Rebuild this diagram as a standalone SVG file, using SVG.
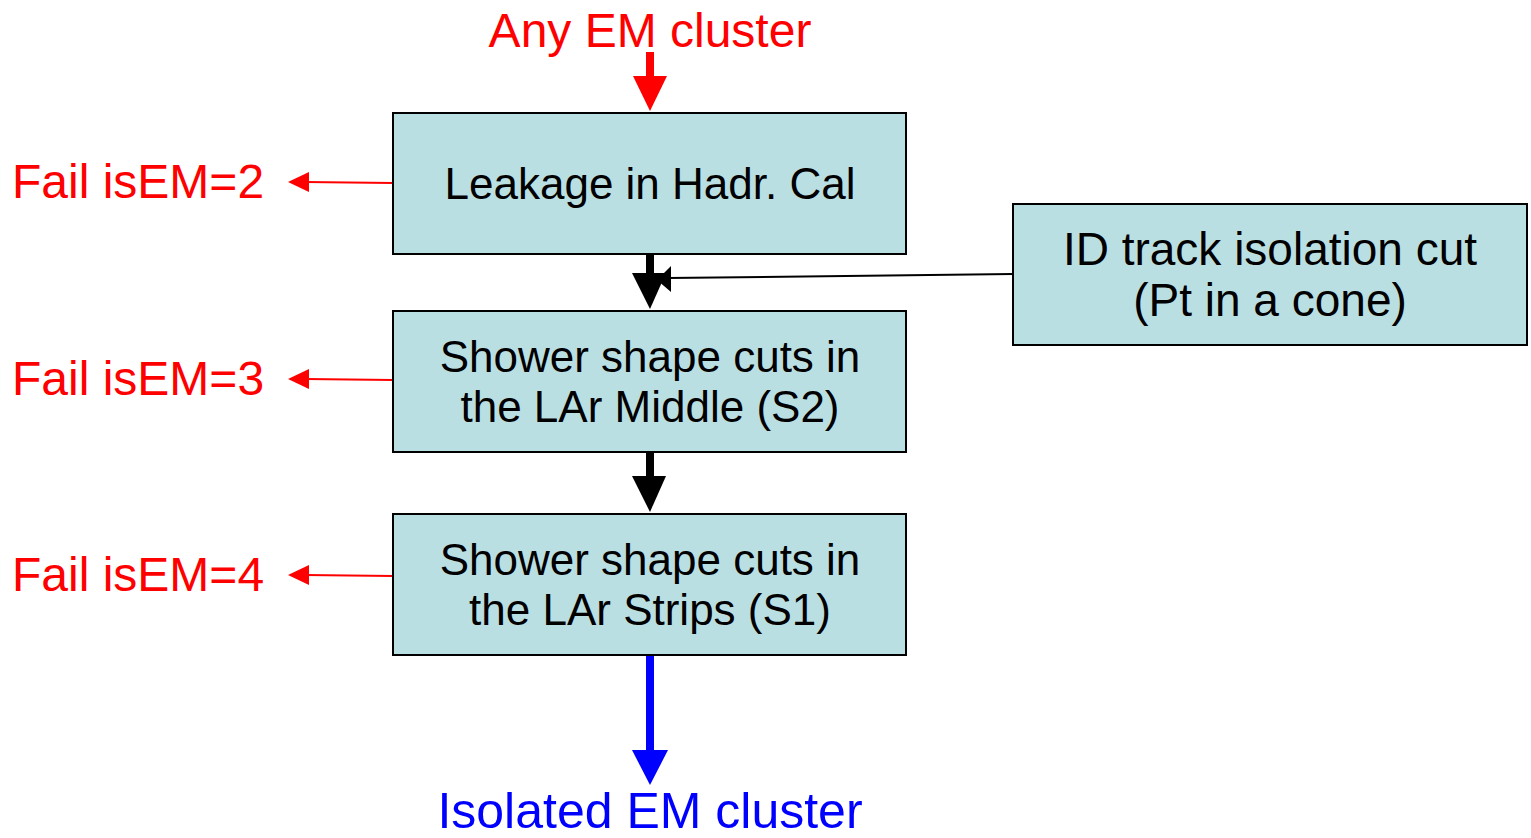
<svg xmlns="http://www.w3.org/2000/svg" width="1531" height="838" viewBox="0 0 1531 838">
<style>
.box{fill:#badfe3;stroke:#000;stroke-width:2}
.t{font-family:"Liberation Sans","Open Sans",sans-serif;font-size:44px;fill:#000;text-anchor:middle}
.t2{font-size:46px}
.red{font-family:"Liberation Sans","Open Sans",sans-serif;font-size:48px;fill:#ff0000}
.blue{font-family:"Liberation Sans","Open Sans",sans-serif;font-size:50px;fill:#0000ff;text-anchor:middle}
</style>
<rect width="1531" height="838" fill="#fff"/>
<g id="connectors">
  <line x1="650" y1="52" x2="650" y2="78" stroke="#ff0000" stroke-width="8"/>
  <polygon points="633,76 667,76 650,111" fill="#ff0000"/>
  <line x1="650" y1="254" x2="650" y2="275" stroke="#000" stroke-width="8"/>
  <polygon points="632,273 666,273 650,309" fill="#000"/>
  <line x1="1013" y1="274" x2="668" y2="278" stroke="#000" stroke-width="2"/>
  <polygon points="657,280 671,266 671,292" fill="#000"/>
  <line x1="650" y1="452" x2="650" y2="478" stroke="#000" stroke-width="8"/>
  <polygon points="632,476 666,476 650,512" fill="#000"/>
  <line x1="650" y1="656" x2="650" y2="752" stroke="#0000ff" stroke-width="8"/>
  <polygon points="632,750 668,750 650,785" fill="#0000ff"/>
  <line x1="393" y1="183" x2="305" y2="182" stroke="#ff0000" stroke-width="2"/>
  <polygon points="288,182 309,172 309,192" fill="#ff0000"/>
  <line x1="393" y1="380" x2="305" y2="379" stroke="#ff0000" stroke-width="2"/>
  <polygon points="288,379 309,369 309,389" fill="#ff0000"/>
  <line x1="393" y1="576" x2="305" y2="575" stroke="#ff0000" stroke-width="2"/>
  <polygon points="288,575 309,565 309,585" fill="#ff0000"/>
</g>
<g id="n1"><rect class="box" x="393" y="113" width="513" height="141"/><text class="t" x="650" y="199">Leakage in Hadr. Cal</text></g>
<g id="n2"><rect class="box" x="393" y="311" width="513" height="141"/><text class="t" x="650" y="372">Shower shape cuts in</text><text class="t" x="650" y="422">the LAr Middle (S2)</text></g>
<g id="n3"><rect class="box" x="393" y="514" width="513" height="141"/><text class="t" x="650" y="575">Shower shape cuts in</text><text class="t" x="650" y="625">the LAr Strips (S1)</text></g>
<g id="n4"><rect class="box" x="1013" y="204" width="514" height="141"/><text class="t t2" x="1270" y="265">ID track isolation cut</text><text class="t t2" x="1270" y="316">(Pt in a cone)</text></g>
<g id="labels">
  <text class="red" x="650" y="47" text-anchor="middle" font-size="50">Any EM cluster</text>
  <text class="red" x="12" y="198">Fail isEM=2</text>
  <text class="red" x="12" y="395">Fail isEM=3</text>
  <text class="red" x="12" y="591">Fail isEM=4</text>
  <text class="blue" x="650" y="828">Isolated EM cluster</text>
</g>
</svg>
